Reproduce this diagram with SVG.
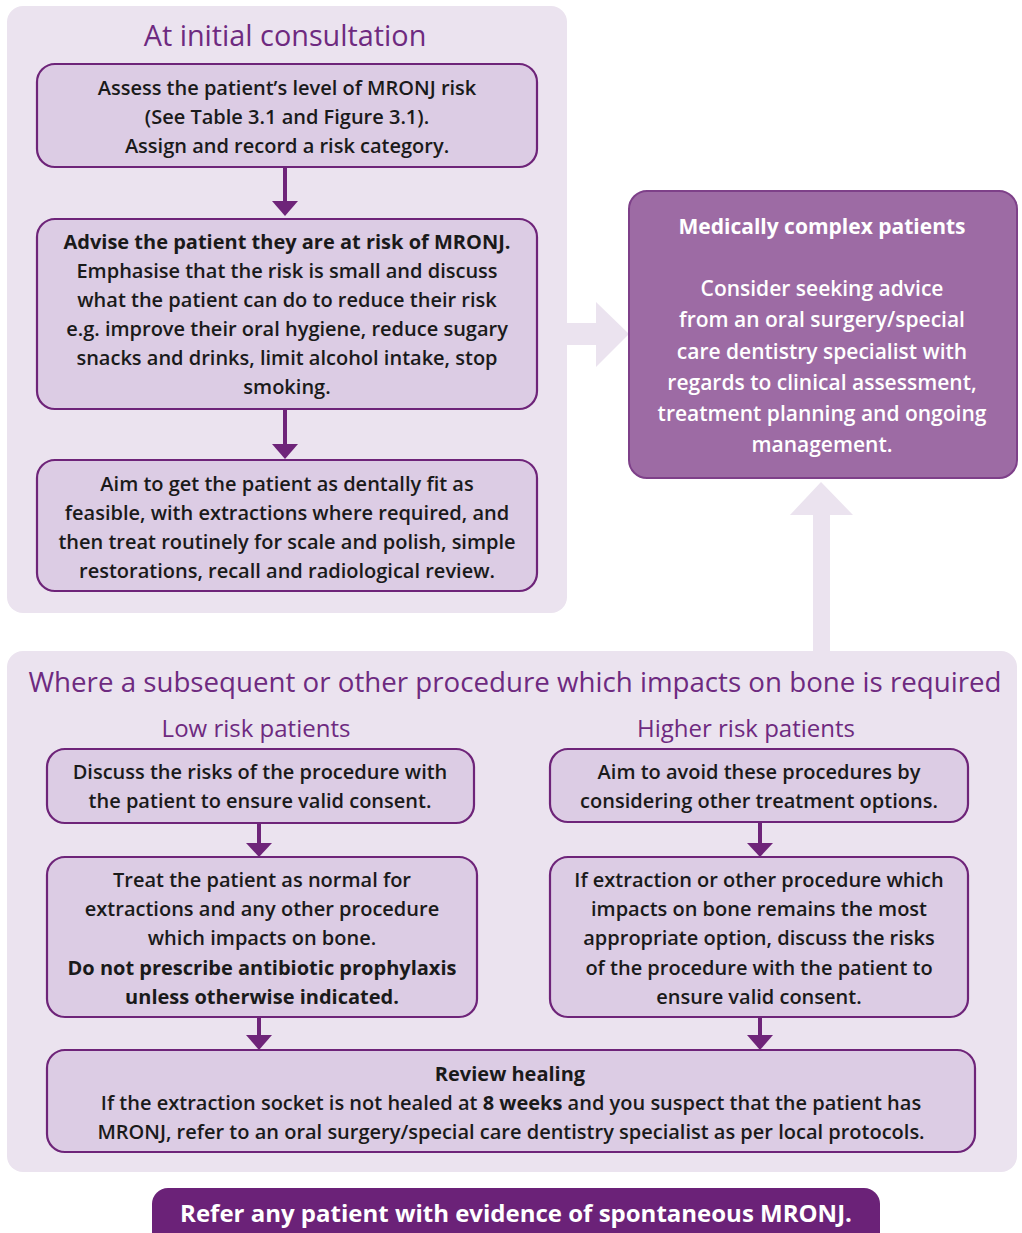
<svg xmlns="http://www.w3.org/2000/svg" width="1022" height="1233" viewBox="0 0 1022 1233">
<defs>
<style>
.panel{fill:#ebe3ef}
.box{fill:#dccce4;stroke:#6e2479;stroke-width:2.2}
.dark{fill:#9d6ba4;stroke:#7e4089;stroke-width:2}
.bar{fill:#6b2278}
.conn{stroke:#6e2479;stroke-width:4;fill:none}
.head{fill:#6e2479}
.block{fill:#ebe3ef}
text{font-family:"Open Sans","Noto Sans","Liberation Sans",sans-serif;text-anchor:middle}
.t{font-size:20px;font-weight:600;fill:#1a1a1a}
.b{font-weight:700}
.h1{font-size:28px;fill:#6e2a80}
.h2{font-size:24px;fill:#6e2a80}
.w{font-size:21px;font-weight:600;fill:#ffffff}
.wb{font-weight:700}
.barText{font-size:24px;font-weight:700;fill:#ffffff}
</style>
</defs>
<rect x="0" y="0" width="1022" height="1233" fill="#ffffff"/>
<!-- panels -->
<rect class="panel" x="7" y="6" width="560" height="607" rx="16"/>
<rect class="panel" x="7" y="651" width="1010" height="521" rx="16"/>
<text class="h1" x="285" y="46" style="font-size:28.8px">At initial consultation</text>
<text class="h1" x="515" y="692" style="font-size:27.7px">Where a subsequent or other procedure which impacts on bone is required</text>
<text class="h2" x="256" y="737">Low risk patients</text>
<text class="h2" x="746" y="737">Higher risk patients</text>

<!-- block arrows -->
<g id="block-arrows">
<path class="block" d="M567 323 L596 323 L596 302 L629 334 L596 367 L596 345 L567 345 Z"/>
<path class="block" d="M813 651 L813 515 L790 515 L821 482 L853 515 L830 515 L830 651 Z"/>
</g>

<g id="connectors">
<line class="conn" x1="285" y1="167" x2="285" y2="202"/>
<path class="head" d="M272 201 L298 201 L285 216 Z"/>
<line class="conn" x1="285" y1="409" x2="285" y2="445"/>
<path class="head" d="M272 444 L298 444 L285 459 Z"/>
<line class="conn" x1="259" y1="823" x2="259" y2="844"/>
<path class="head" d="M246 843 L272 843 L259 857 Z"/>
<line class="conn" x1="760" y1="822" x2="760" y2="844"/>
<path class="head" d="M747 843 L773 843 L760 857 Z"/>
<line class="conn" x1="259" y1="1017" x2="259" y2="1036"/>
<path class="head" d="M246 1035 L272 1035 L259 1050 Z"/>
<line class="conn" x1="760" y1="1017" x2="760" y2="1036"/>
<path class="head" d="M747 1035 L773 1035 L760 1050 Z"/>
</g>

<g id="assess">
<rect class="box" x="37" y="64" width="500" height="103" rx="18"/>
<text class="t" x="287" y="95">Assess the patient’s level of MRONJ risk</text>
<text class="t" x="287" y="124">(See Table 3.1 and Figure 3.1).</text>
<text class="t" x="287" y="153">Assign and record a risk category.</text>
</g>

<g id="advise">
<rect class="box" x="37" y="219" width="500" height="190" rx="18"/>
<text class="t b" x="287" y="249">Advise the patient they are at risk of MRONJ.</text>
<text class="t" x="287" y="278">Emphasise that the risk is small and discuss</text>
<text class="t" x="287" y="307">what the patient can do to reduce their risk</text>
<text class="t" x="287" y="336">e.g. improve their oral hygiene, reduce sugary</text>
<text class="t" x="287" y="365">snacks and drinks, limit alcohol intake, stop</text>
<text class="t" x="287" y="394">smoking.</text>
</g>

<g id="aim">
<rect class="box" x="37" y="460" width="500" height="131" rx="18"/>
<text class="t" x="287" y="491">Aim to get the patient as dentally fit as</text>
<text class="t" x="287" y="520">feasible, with extractions where required, and</text>
<text class="t" x="287" y="549">then treat routinely for scale and polish, simple</text>
<text class="t" x="287" y="578">restorations, recall and radiological review.</text>
</g>

<g id="complex">
<rect class="dark" x="629" y="191" width="388" height="287" rx="18"/>
<text class="w wb" x="822" y="234">Medically complex patients</text>
<text class="w" x="822" y="296">Consider seeking advice</text>
<text class="w" x="822" y="327">from an oral surgery/special</text>
<text class="w" x="822" y="359">care dentistry specialist with</text>
<text class="w" x="822" y="390">regards to clinical assessment,</text>
<text class="w" x="822" y="421">treatment planning and ongoing</text>
<text class="w" x="822" y="452">management.</text>
</g>

<g id="low-discuss">
<rect class="box" x="47" y="749" width="427" height="74" rx="18"/>
<text class="t" x="260" y="779">Discuss the risks of the procedure with</text>
<text class="t" x="260" y="808">the patient to ensure valid consent.</text>
</g>

<g id="low-treat">
<rect class="box" x="47" y="857" width="430" height="160" rx="18"/>
<text class="t" x="262" y="887">Treat the patient as normal for</text>
<text class="t" x="262" y="916">extractions and any other procedure</text>
<text class="t" x="262" y="945">which impacts on bone.</text>
<text class="t b" x="262" y="975">Do not prescribe antibiotic prophylaxis</text>
<text class="t b" x="262" y="1004">unless otherwise indicated.</text>
</g>

<g id="high-avoid">
<rect class="box" x="550" y="749" width="418" height="73" rx="18"/>
<text class="t" x="759" y="779">Aim to avoid these procedures by</text>
<text class="t" x="759" y="808">considering other treatment options.</text>
</g>

<g id="high-discuss">
<rect class="box" x="550" y="857" width="418" height="160" rx="18"/>
<text class="t" x="759" y="887">If extraction or other procedure which</text>
<text class="t" x="759" y="916">impacts on bone remains the most</text>
<text class="t" x="759" y="945">appropriate option, discuss the risks</text>
<text class="t" x="759" y="975">of the procedure with the patient to</text>
<text class="t" x="759" y="1004">ensure valid consent.</text>
</g>

<g id="review">
<rect class="box" x="47" y="1050" width="928" height="102" rx="18"/>
<text class="t b" x="510" y="1081">Review healing</text>
<text class="t" x="511" y="1110">If the extraction socket is not healed at <tspan font-weight="700">8 weeks</tspan> and you suspect that the patient has</text>
<text class="t" x="511" y="1139">MRONJ, refer to an oral surgery/special care dentistry specialist as per local protocols.</text>
</g>

<g id="refer">
<rect class="bar" x="152" y="1188" width="728" height="60" rx="16"/>
<text class="barText" x="516" y="1222">Refer any patient with evidence of spontaneous MRONJ.</text>
</g>
</svg>
